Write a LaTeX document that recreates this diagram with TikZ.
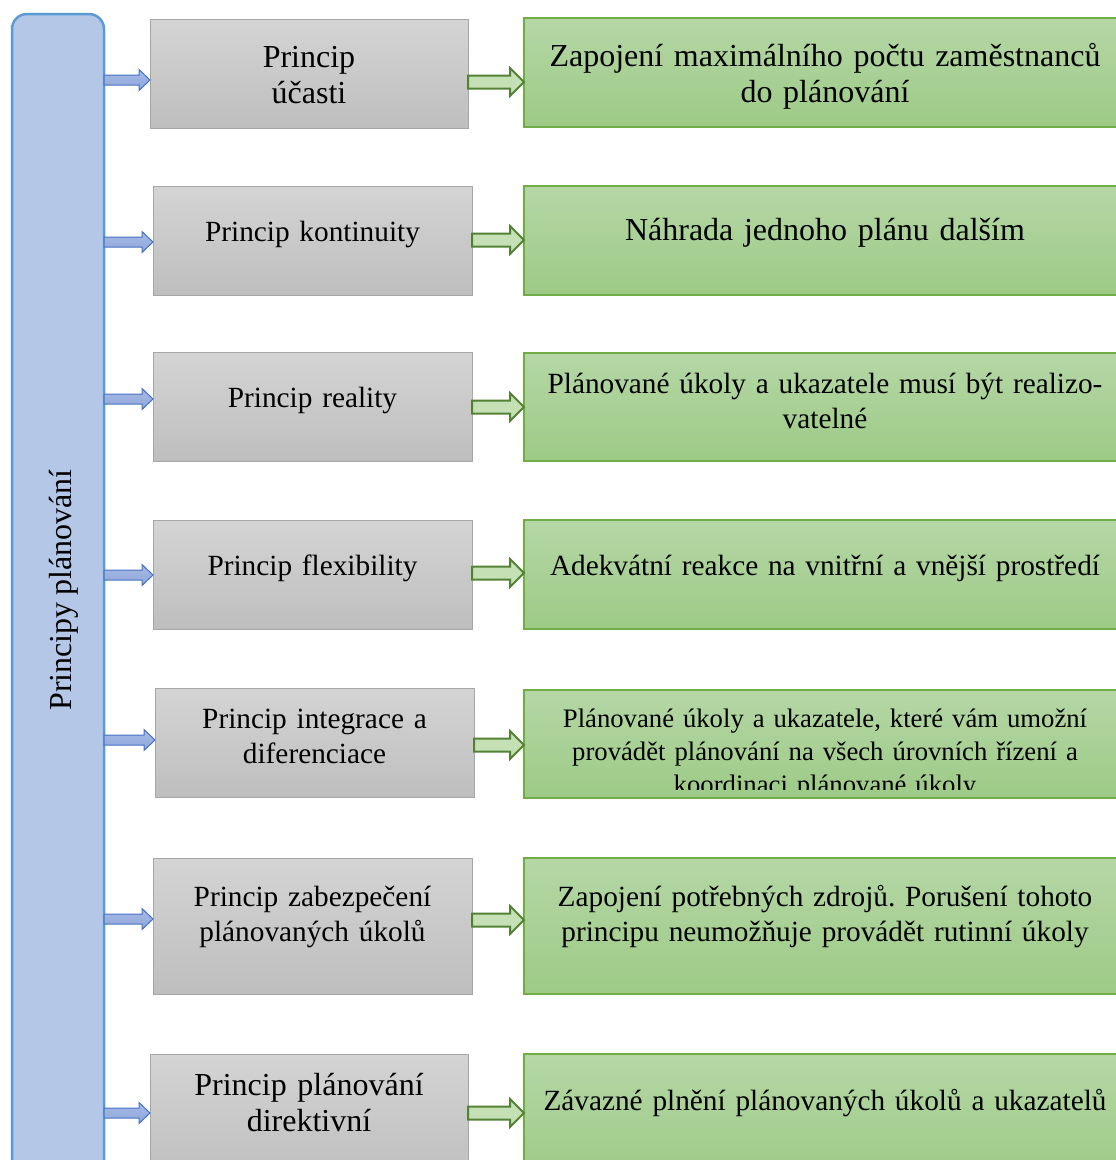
\documentclass[tikz,border=0pt]{standalone}
\usepackage{fontspec}
\setmainfont[WordSpace=0.85]{Liberation Serif}
\frenchspacing
\usetikzlibrary{calc}
\definecolor{leftfill}{HTML}{B4C7E7}
\definecolor{leftdraw}{HTML}{5B9BD5}
\definecolor{graytop}{HTML}{D4D4D4}
\definecolor{graybot}{HTML}{BEBEBE}
\definecolor{graydraw}{HTML}{A6A6A6}
\definecolor{greentop}{HTML}{B5D7A6}
\definecolor{greenbot}{HTML}{9DCA86}
\definecolor{greendraw}{HTML}{70AD47}
\definecolor{bluearrtop}{HTML}{A7BBE5}
\definecolor{bluearrbot}{HTML}{8DA5DA}
\definecolor{bluearrdraw}{HTML}{4472C4}
\definecolor{grnarrfill}{HTML}{C5E0B4}
\definecolor{grnarrdraw}{HTML}{548235}
\newcommand\blockarrow[7]{%
  \path[#1] let \p1=(#2.east), \p2=(#3.west) in
  (\x1,{-(#4-#5)*1pt}) -- ({\x2-#7*1pt},{-(#4-#5)*1pt}) -- ({\x2-#7*1pt},{-(#4-#6)*1pt})
  -- (\x2,{-#4*1pt}) -- ({\x2-#7*1pt},{-(#4+#6)*1pt}) -- ({\x2-#7*1pt},{-(#4+#5)*1pt})
  -- (\x1,{-(#4+#5)*1pt}) -- cycle;}
\tikzset{
  leftbox/.style={draw=leftdraw, line width=2.5pt, fill=leftfill, rounded corners=15pt, inner sep=0pt, outer sep=0pt},
  graybox/.style={draw=graydraw, line width=1pt, top color=graytop, bottom color=graybot, inner sep=0pt, outer sep=0pt},
  greenbox/.style={draw=greendraw, line width=1.2pt, top color=greentop, bottom color=greenbot, inner sep=0pt, outer sep=0pt},
  bluearrow/.style={draw=bluearrdraw, line width=1pt, top color=bluearrtop, bottom color=bluearrbot, line join=miter},
  greenarrow/.style={draw=grnarrdraw, line width=2pt, fill=grnarrfill, line join=miter},
  bigtxt/.style={font=\fontsize{32}{36}\selectfont},
  midtxt/.style={font=\fontsize{29.3}{35}\selectfont},
  smalltxt/.style={font=\fontsize{26.7}{33}\selectfont},
  graytxt/.style={anchor=base, align=center, text width=310pt, inner sep=0pt},
  greentxt/.style={anchor=base, align=center, text width=610pt, inner sep=0pt},
}
\begin{document}
\begin{tikzpicture}[x=1pt, y=-1pt]
\useasboundingbox (0,0) rectangle (1116,1160);
\clip (0,0) rectangle (1116,1160);
\fill[white] (0,0) rectangle (1116,1160);
% left box
\node[leftbox, minimum width=92pt, minimum height=1166pt] (L) at (58,597) {};
\node[bigtxt, rotate=90, anchor=base, inner sep=0pt] (LT) at (71.7,590) {Principy plánování};
% gray boxes
\node[graybox, minimum width=318pt, minimum height=109pt] (P1) at (309,73.5) {};
\node[graybox, minimum width=319pt, minimum height=109pt] (P2) at (312.5,240.5) {};
\node[graybox, minimum width=319pt, minimum height=109pt] (P3) at (312.5,406.5) {};
\node[graybox, minimum width=319pt, minimum height=109pt] (P4) at (312.5,574.5) {};
\node[graybox, minimum width=319pt, minimum height=109pt] (P5) at (314.5,742.5) {};
\node[graybox, minimum width=319pt, minimum height=136pt] (P6) at (312.5,926) {};
\node[graybox, minimum width=318pt, minimum height=126pt] (P7) at (309,1117) {};
% green boxes
\node[greenbox, minimum width=602pt, minimum height=109pt] (G1) at (825,72.5) {};
\node[greenbox, minimum width=602pt, minimum height=109pt] (G2) at (825,240.5) {};
\node[greenbox, minimum width=602pt, minimum height=108pt] (G3) at (825,407) {};
\node[greenbox, minimum width=602pt, minimum height=109pt] (G4) at (825,574.5) {};
\node[greenbox, minimum width=602pt, minimum height=108pt] (G5) at (825,744) {};
\node[greenbox, minimum width=602pt, minimum height=136pt] (G6) at (825,926) {};
\node[greenbox, minimum width=602pt, minimum height=126pt] (G7) at (825,1117) {};
% gray texts
\node[graytxt, bigtxt] (T1) at (309,67) {Princip\\účasti};
\node[graytxt, midtxt] (T2) at (312.5,241) {Princip kontinuity};
\node[graytxt, midtxt] (T3) at (312.5,407) {Princip reality};
\node[graytxt, midtxt] (T4) at (312.5,575) {Princip flexibility};
\node[graytxt, midtxt] (T5) at (314.5,728) {Princip integrace a\\diferenciace};
\node[graytxt, midtxt] (T6) at (312.5,906) {Princip zabezpečení\\plánovaných úkolů};
\node[graytxt, bigtxt] (T7) at (309,1095) {Princip plánování\\direktivní};
% green texts
\node[greentxt, bigtxt] (U1) at (825,66) {Zapojení maximálního počtu zaměstnanců\\do plánování};
\node[greentxt, bigtxt] (U2) at (825,240) {Náhrada jednoho plánu dalším};
\node[greentxt, midtxt] (U3) at (825,393) {Plánované úkoly a ukazatele musí být realizo-\\vatelné};
\node[greentxt, midtxt] (U4) at (825,575) {Adekvátní reakce na vnitřní a vnější prostředí};
\begin{scope}
\clip (524,690) rectangle (1116,789);
\node[greentxt, smalltxt] (U5) at (825,727) {Plánované úkoly a ukazatele, které vám umožní\\provádět plánování na všech úrovních řízení a\\koordinaci plánované úkoly};
\end{scope}
\node[greentxt, midtxt] (U6) at (825,906) {Zapojení potřebných zdrojů. Porušení tohoto\\principu neumožňuje provádět rutinní úkoly};
\node[greentxt, midtxt] (U7) at (825,1110) {Závazné plnění plánovaných úkolů a ukazatelů};
% blue arrows
\blockarrow{bluearrow}{L}{P1}{80}{5}{10.5}{11}
\blockarrow{bluearrow}{L}{P2}{242}{5}{10.5}{11}
\blockarrow{bluearrow}{L}{P3}{399}{5}{10.5}{11}
\blockarrow{bluearrow}{L}{P4}{575}{5}{10.5}{11}
\blockarrow{bluearrow}{L}{P5}{740}{5}{10.5}{11}
\blockarrow{bluearrow}{L}{P6}{919}{5}{10.5}{11}
\blockarrow{bluearrow}{L}{P7}{1113}{5}{10.5}{11}
% green arrows
\blockarrow{greenarrow}{P1}{G1}{82}{6.5}{14}{14}
\blockarrow{greenarrow}{P2}{G2}{240}{6.5}{14}{14}
\blockarrow{greenarrow}{P3}{G3}{407}{6.5}{14}{14}
\blockarrow{greenarrow}{P4}{G4}{573}{6.5}{14}{14}
\blockarrow{greenarrow}{P5}{G5}{745}{6.5}{14}{14}
\blockarrow{greenarrow}{P6}{G6}{920}{6.5}{14}{14}
\blockarrow{greenarrow}{P7}{G7}{1113}{6.5}{14}{14}
\end{tikzpicture}
\end{document}
